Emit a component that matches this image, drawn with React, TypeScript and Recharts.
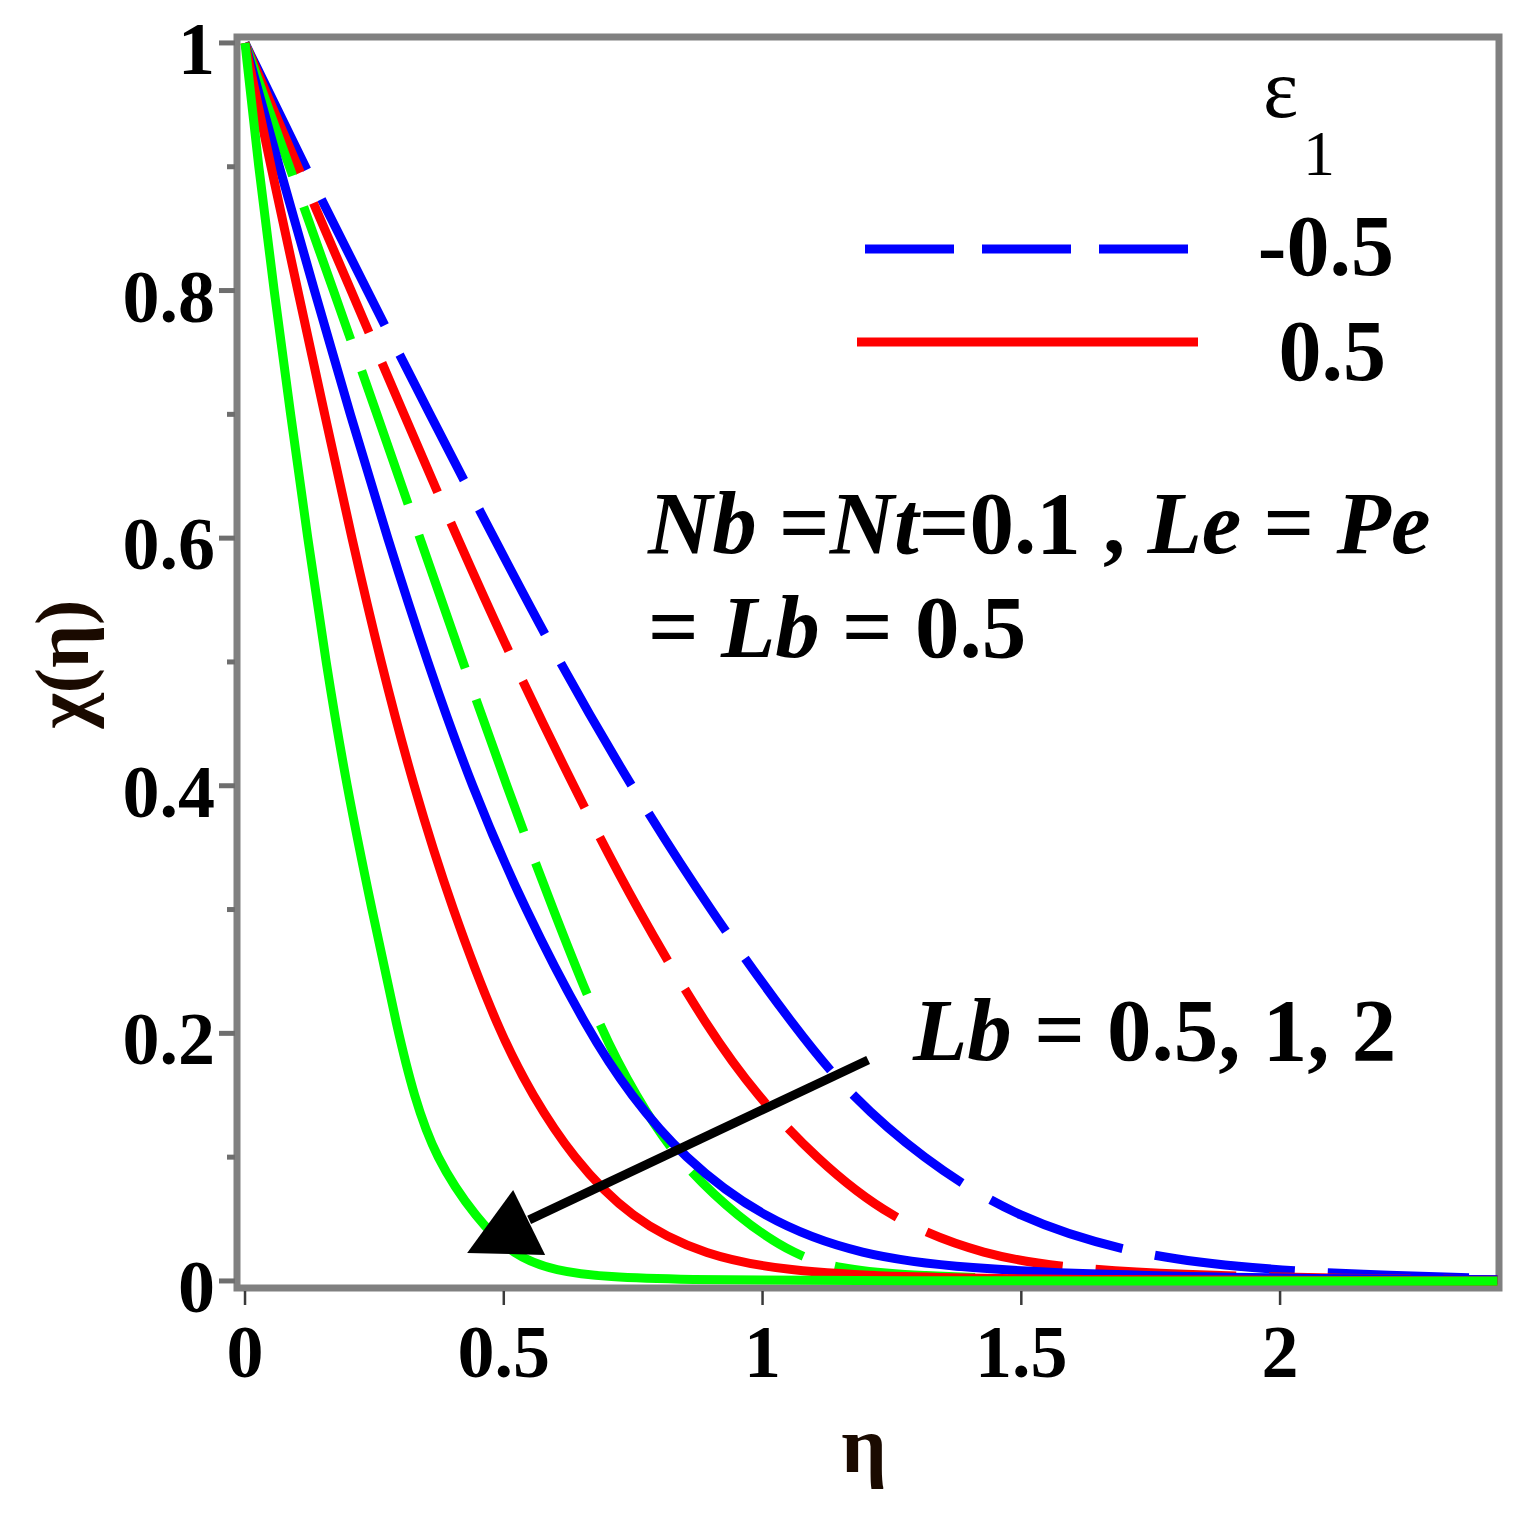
import React from 'react';
import { LineChart, Line, XAxis, YAxis, ReferenceArea, ReferenceLine } from 'recharts';

const FONT = '"Liberation Serif", "Times New Roman", serif';

// ---- axis setup ----
const xTicks = [0, 0.5, 1, 1.5, 2];
const yTicks = [0, 0.1, 0.2, 0.3, 0.4, 0.5, 0.6, 0.7, 0.8, 0.9, 1];
const yMajorLabels: Record<string, string> = { '0': '0', '0.2': '0.2', '0.4': '0.4', '0.6': '0.6', '0.8': '0.8', '1': '1' };
const X_DOMAIN: [number, number] = [-0.0155, 2.423];
const Y_DOMAIN: [number, number] = [-0.0057, 1.0048];

// ---- series: eps1 = -0.5 (dashed) ----
const etaBlueDashed = [0, 0.116, 0.236, 0.357, 0.481, 0.607, 0.745, 0.897, 1.07, 1.17, 1.305, 1.49, 1.73, 1.95, 2.15, 2.42];
const chiBlueDashed = [1, 0.9, 0.8, 0.7, 0.6, 0.5, 0.4, 0.3, 0.2, 0.15, 0.1, 0.05, 0.02, 0.01, 0.005, 0.002];

const etaRedDashed = [0, 0.102, 0.205, 0.307, 0.41, 0.518, 0.634, 0.757, 0.9, 0.989, 1.1, 1.245, 1.43, 1.6, 1.8, 2.1, 2.42];
const chiRedDashed = [1, 0.9, 0.8, 0.7, 0.6, 0.5, 0.4, 0.3, 0.2, 0.15, 0.1, 0.05, 0.02, 0.01, 0.005, 0.002, 0.001];

const etaGreenDashed = [0, 0.086, 0.171, 0.255, 0.338, 0.421, 0.505, 0.595, 0.69, 0.755, 0.83, 0.955, 1.065, 1.15, 1.25, 1.5, 2.42];
const chiGreenDashed = [1, 0.9, 0.8, 0.7, 0.6, 0.5, 0.4, 0.3, 0.2, 0.15, 0.1, 0.05, 0.02, 0.01, 0.005, 0.001, 0];

// ---- series: eps1 = 0.5 (solid) ----
const etaBlueSolid = [0, 0.066, 0.134, 0.203, 0.275, 0.352, 0.437, 0.54, 0.665, 0.745, 0.845, 1.0, 1.19, 1.4, 1.65, 2.0, 2.42];
const chiBlueSolid = [1, 0.9, 0.8, 0.7, 0.6, 0.5, 0.4, 0.3, 0.2, 0.15, 0.1, 0.05, 0.02, 0.01, 0.005, 0.002, 0.001];

const etaRedSolid = [0, 0.05, 0.102, 0.154, 0.206, 0.262, 0.325, 0.4, 0.492, 0.555, 0.632, 0.745, 0.89, 1.05, 1.25, 1.6, 2.42];
const chiRedSolid = [1, 0.9, 0.8, 0.7, 0.6, 0.5, 0.4, 0.3, 0.2, 0.15, 0.1, 0.05, 0.02, 0.008, 0.003, 0.001, 0];

const etaGreenSolid = [0, 0.026, 0.056, 0.088, 0.121, 0.156, 0.196, 0.245, 0.296, 0.326, 0.367, 0.447, 0.52, 0.6, 0.7, 0.85, 1.1, 2.42];
const chiGreenSolid = [1, 0.9, 0.8, 0.7, 0.6, 0.5, 0.4, 0.3, 0.2, 0.15, 0.1, 0.05, 0.02, 0.008, 0.003, 0.001, 0, 0];

// ---- legend / annotation texts ----
const legendTitle = 'ε';
const legendSub = '1';
const legendLabels = ['-0.5', '0.5'];
const arrowStart = { x: 1.204, y: 0.1785 };
const arrowEnd = { x: 0.549, y: 0.0493 };

const toPoints = (eta: number[], chi: number[]) => eta.map((e, i) => ({ eta: e, chi: chi[i] }));

const series = [
  { key: 'bD', data: toPoints(etaBlueDashed, chiBlueDashed), color: '#0000ff', dashed: true },
  { key: 'rD', data: toPoints(etaRedDashed, chiRedDashed), color: '#ff0000', dashed: true },
  { key: 'gD', data: toPoints(etaGreenDashed, chiGreenDashed), color: '#00ff00', dashed: true },
  { key: 'bS', data: toPoints(etaBlueSolid, chiBlueSolid), color: '#0000ff', dashed: false },
  { key: 'rS', data: toPoints(etaRedSolid, chiRedSolid), color: '#ff0000', dashed: false },
  { key: 'gS', data: toPoints(etaGreenSolid, chiGreenSolid), color: '#00ff00', dashed: false },
];

const XTick = (props: any) => {
  const { x, y, payload } = props;
  return (
    <g>
      <line x1={x} x2={x} y1={y + 3} y2={y + 17} stroke="#3a3a3a" strokeWidth={2.5} />
      <text x={x} y={y + 89} textAnchor="middle" fontFamily={FONT} fontWeight="bold" fontSize={74} fill="#000">
        {String(payload.value)}
      </text>
    </g>
  );
};

const YTick = (props: any) => {
  const { x, y, payload } = props;
  const v = payload.value as number;
  const key = String(Math.round(v * 10) / 10);
  const label = yMajorLabels[key];
  const major = label !== undefined;
  return (
    <g>
      <line x1={x - (major ? 18 : 10)} x2={x - 2} y1={y} y2={y} stroke="#6e6e6e" strokeWidth={5} />
      {major && (
        <text x={x - 22} y={y + 31} textAnchor="end" fontFamily={FONT} fontWeight="bold" fontSize={74} fill="#000">
          {label}
        </text>
      )}
    </g>
  );
};

const ArrowShape = (p: any) => {
  const { x1, y1, x2, y2 } = p;
  const pts = [
    [x2 - 16, y2 - 30],
    [x2 - 62, y2 + 33],
    [x2 + 16, y2 + 35],
  ]
    .map((q) => q.join(','))
    .join(' ');
  return (
    <g>
      <line x1={x1} y1={y1} x2={x2} y2={y2} stroke="#000" strokeWidth={9} />
      <polygon points={pts} fill="#000" />
    </g>
  );
};

export default function App() {
  const W = 1513;
  const H = 1513;
  return (
    <div style={{ position: 'relative', width: W, height: H, background: '#fff' }}>
      <LineChart width={W} height={H} margin={{ top: 29, right: 22, bottom: 0, left: 0 }}>
        <XAxis
          type="number"
          dataKey="eta"
          domain={X_DOMAIN}
          allowDataOverflow
          ticks={xTicks}
          interval={0}
          height={233}
          axisLine={false}
          tickLine={false}
          tickSize={0}
          tickMargin={0}
          tick={(p: any) => <XTick {...p} />}
        />
        <YAxis
          type="number"
          domain={Y_DOMAIN}
          allowDataOverflow
          ticks={yTicks}
          interval={0}
          width={229}
          axisLine={false}
          tickLine={false}
          tickSize={0}
          tickMargin={0}
          tick={(p: any) => <YTick {...p} />}
        />
        <ReferenceArea
          x1={X_DOMAIN[0]}
          x2={X_DOMAIN[1]}
          y1={Y_DOMAIN[0]}
          y2={Y_DOMAIN[1]}
          fill="none"
          fillOpacity={0}
          stroke="#808080"
          strokeWidth={7}
          ifOverflow="visible"
        />
        {series.map((s) => (
          <Line
            key={s.key}
            data={s.data}
            dataKey="chi"
            type="basis"
            stroke={s.color}
            strokeWidth={9}
            strokeDasharray={s.dashed ? '141 33' : undefined}
            dot={false}
            activeDot={false}
            isAnimationActive={false}
          />
        ))}
        <ReferenceLine
          segment={[arrowStart, arrowEnd]}
          stroke="#000"
          strokeWidth={9}
          ifOverflow="visible"
          shape={(p: any) => <ArrowShape {...p} />}
        />
      </LineChart>
      <svg width={W} height={H} style={{ position: 'absolute', left: 0, top: 0, pointerEvents: 'none' }}>
        {/* legend */}
        <text x={1255} y={109} fontFamily={FONT} fontSize={84} fill="#000">{legendTitle}</text>
        <text x={1295} y={167} fontFamily={FONT} fontSize={64} fill="#000">{legendSub}</text>
        <line x1={857} x2={1180} y1={241} y2={241} stroke="#0000ff" strokeWidth={9} strokeDasharray="89 28" />
        <text x={1386} y={267} textAnchor="end" fontFamily={FONT} fontWeight="bold" fontSize={86} fill="#000">{legendLabels[0]}</text>
        <line x1={849} x2={1190} y1={334} y2={334} stroke="#ff0000" strokeWidth={9} />
        <text x={1378} y={372} textAnchor="end" fontFamily={FONT} fontWeight="bold" fontSize={86} fill="#000">{legendLabels[1]}</text>

        {/* parameter annotation */}
        <text x={640} y={545} fontFamily={FONT} fontWeight="bold" fontSize={89} fill="#000">
          <tspan fontStyle="italic">Nb</tspan>
          <tspan> =</tspan>
          <tspan fontStyle="italic">Nt</tspan>
          <tspan>=0.1 , </tspan>
          <tspan fontStyle="italic">Le</tspan>
          <tspan> = </tspan>
          <tspan fontStyle="italic">Pe</tspan>
        </text>
        <text x={640} y={649} fontFamily={FONT} fontWeight="bold" fontSize={89} fill="#000">
          <tspan>= </tspan>
          <tspan fontStyle="italic">Lb</tspan>
          <tspan> = 0.5</tspan>
        </text>
        <text x={905} y={1052} fontFamily={FONT} fontWeight="bold" fontSize={89} fill="#000">
          <tspan fontStyle="italic">Lb</tspan>
          <tspan> = 0.5, 1, 2</tspan>
        </text>

        {/* axis titles */}
        <text x={856} y={1464} textAnchor="middle" fontFamily={FONT} fontWeight="bold" fontSize={80} fill="#1a0a00">η</text>
        <text
          x={80}
          y={656}
          textAnchor="middle"
          transform="rotate(-90 80 656)"
          fontFamily={FONT}
          fontWeight="bold"
          fontSize={76}
          fill="#1a0a00"
        >
          χ(η)
        </text>
      </svg>
    </div>
  );
}
